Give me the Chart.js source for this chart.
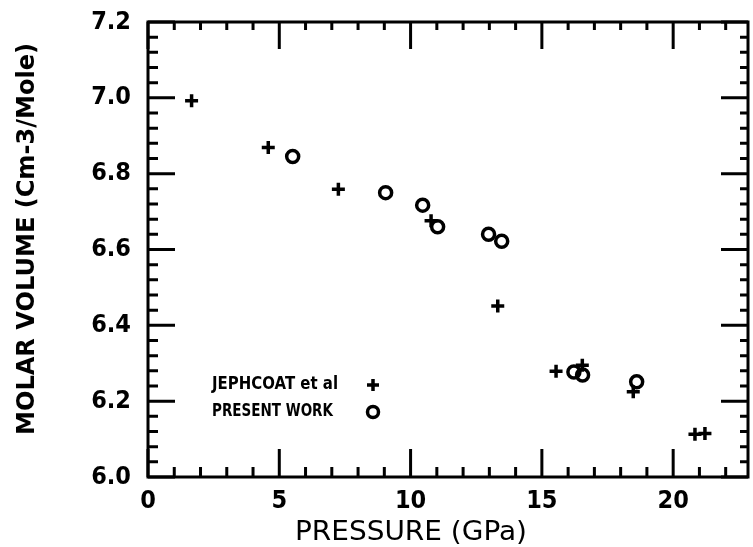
<!DOCTYPE html>
<html>
<head>
<meta charset="utf-8">
<script src="https://cdn.jsdelivr.net/npm/chart.js@4/dist/chart.umd.min.js"></script>
<style>
  html, body { margin: 0; padding: 0; background: #ffffff; }
  #wrap { width: 753px; height: 547px; }
</style>
</head>
<body>
<div id="wrap"><canvas id="molarChart"></canvas></div>
<script>
// Data
const pressureJephcoat = [1.66, 4.58, 7.25, 10.78, 13.32, 15.54, 16.54, 18.48, 20.83, 21.21];
const volumeJephcoat = [6.992, 6.869, 6.759, 6.676, 6.451, 6.279, 6.295, 6.225, 6.113, 6.115];
const pressurePresent = [5.51, 9.05, 10.46, 11.03, 12.97, 13.47, 16.22, 16.55, 18.61];
const volumePresent = [6.845, 6.750, 6.717, 6.660, 6.640, 6.622, 6.277, 6.269, 6.251];

const xTicks = [0, 5, 10, 15, 20];
const yTicks = [6.0, 6.2, 6.4, 6.6, 6.8, 7.0, 7.2];
const legendLabels = ["JEPHCOAT et al", "PRESENT WORK"];
const xTitle = "PRESSURE (GPa)";
const yTitle = "MOLAR VOLUME (Cm-3/Mole)";

const toPoints = (xs, ys) => xs.map((x, i) => ({ x: x, y: ys[i] }));

const tickFamily = "'DejaVu Sans Condensed', 'Liberation Sans Narrow', 'DejaVu Sans'";

// Draw text squeezed/stretched to a given width
const drawFitted = (ctx, text, x, y, width, font) => {
    ctx.save();
    ctx.font = font;
    const w = ctx.measureText(text).width;
    ctx.translate(x, y);
    ctx.scale(width / w, 1);
    ctx.textAlign = "left";
    ctx.textBaseline = "middle";
    ctx.fillText(text, 0, 0);
    ctx.restore();
};

// Box, inward ticks on all sides, axis titles and the legend
const framePlugin = {
    id: "frame",
    afterDatasetsDraw(chart) {
        const ctx = chart.ctx;
        const area = chart.chartArea;
        const xs = chart.scales.x;
        const ys = chart.scales.y;
        ctx.save();
        ctx.strokeStyle = "#000";
        ctx.fillStyle = "#000";
        ctx.lineCap = "butt";

        // ticks along x (bottom and top)
        ctx.lineWidth = 3;
        for (let v = 0; v <= xs.max; v += 1) {
            const px = xs.getPixelForValue(v);
            const major = v % 5 === 0;
            const lenB = major ? 28 : 10;
            const lenT = major ? 27 : 8;
            ctx.beginPath();
            ctx.moveTo(px, area.bottom);
            ctx.lineTo(px, area.bottom - lenB);
            ctx.moveTo(px, area.top);
            ctx.lineTo(px, area.top + lenT);
            ctx.stroke();
        }
        // ticks along y (left and right)
        for (let i = 0; i <= 30; i++) {
            const v = 6.0 + i * 0.04;
            const py = ys.getPixelForValue(v);
            const major = i % 5 === 0;
            const lenL = major ? 27 : 10;
            const lenR = major ? 27 : 8;
            ctx.beginPath();
            ctx.moveTo(area.left, py);
            ctx.lineTo(area.left + lenL, py);
            ctx.moveTo(area.right, py);
            ctx.lineTo(area.right - lenR, py);
            ctx.stroke();
        }

        // frame
        ctx.lineWidth = 3;
        ctx.strokeRect(area.left, area.top, area.right - area.left, area.bottom - area.top);

        // axis titles
        drawFitted(ctx, xTitle, 295, 533, 232, "27px 'DejaVu Sans', sans-serif");
        ctx.save();
        ctx.translate(28, 435);
        ctx.rotate(-Math.PI / 2);
        drawFitted(ctx, yTitle, 0, 0, 392, "bold 24px 'DejaVu Sans', sans-serif");
        ctx.restore();

        // legend
        const legFont = "bold 17px 'DejaVu Sans', sans-serif";
        drawFitted(ctx, legendLabels[0], 212, 385, 126, legFont);
        drawFitted(ctx, legendLabels[1], 212, 412, 121, legFont);
        ctx.lineWidth = 3.5;
        ctx.fillStyle = "rgba(0,0,0,0)";
        Chart.helpers.drawPoint(ctx, { pointStyle: "cross", radius: 6, borderWidth: 3.5 }, 373, 385);
        Chart.helpers.drawPoint(ctx, { pointStyle: "circle", radius: 5.5, borderWidth: 3.5 }, 373, 412);
        ctx.restore();
    }
};

const noPadding = (scale) => {
    scale.paddingTop = 0;
    scale.paddingBottom = 0;
    scale.paddingLeft = 0;
    scale.paddingRight = 0;
};

document.addEventListener("DOMContentLoaded", () => {
    const ctx = document.querySelector("#molarChart").getContext("2d");

    new Chart(ctx, {
        type: "scatter",
        data: {
            datasets: [
                {
                    label: legendLabels[0],
                    data: toPoints(pressureJephcoat, volumeJephcoat),
                    pointStyle: "cross",
                    pointRadius: 6.5,
                    borderColor: "#000",
                    backgroundColor: "#000",
                    pointBorderWidth: 3.5
                },
                {
                    label: legendLabels[1],
                    data: toPoints(pressurePresent, volumePresent),
                    pointStyle: "circle",
                    pointRadius: 6,
                    borderColor: "#000",
                    backgroundColor: "rgba(0,0,0,0)",
                    pointBorderWidth: 3.5
                }
            ]
        },
        options: {
            responsive: true,
            maintainAspectRatio: false,
            animation: false,
            layout: { autoPadding: false, padding: { top: 22, right: 5, left: 0, bottom: 0 } },
            scales: {
                x: {
                    type: "linear",
                    min: 0,
                    max: 22.85,
                    afterFit: (scale) => { scale.height = 70; noPadding(scale); },
                    afterBuildTicks: (scale) => { scale.ticks = xTicks.map(v => ({ value: v })); },
                    grid: { display: false, drawTicks: false },
                    border: { display: false },
                    ticks: {
                        padding: 9,
                        maxRotation: 0,
                        color: "#000",
                        font: { family: tickFamily, size: 25, weight: "bold" }
                    }
                },
                y: {
                    type: "linear",
                    min: 6.0,
                    max: 7.2,
                    afterFit: (scale) => { scale.width = 148; noPadding(scale); },
                    afterBuildTicks: (scale) => { scale.ticks = yTicks.map(v => ({ value: v })); },
                    grid: { display: false, drawTicks: false },
                    border: { display: false },
                    ticks: {
                        padding: 17,
                        color: "#000",
                        callback: (v) => Number(v).toFixed(1),
                        font: { family: tickFamily, size: 25, weight: "bold" }
                    }
                }
            },
            plugins: {
                legend: { display: false },
                tooltip: { enabled: false }
            }
        },
        plugins: [framePlugin]
    });
});
</script>
</body>
</html>
